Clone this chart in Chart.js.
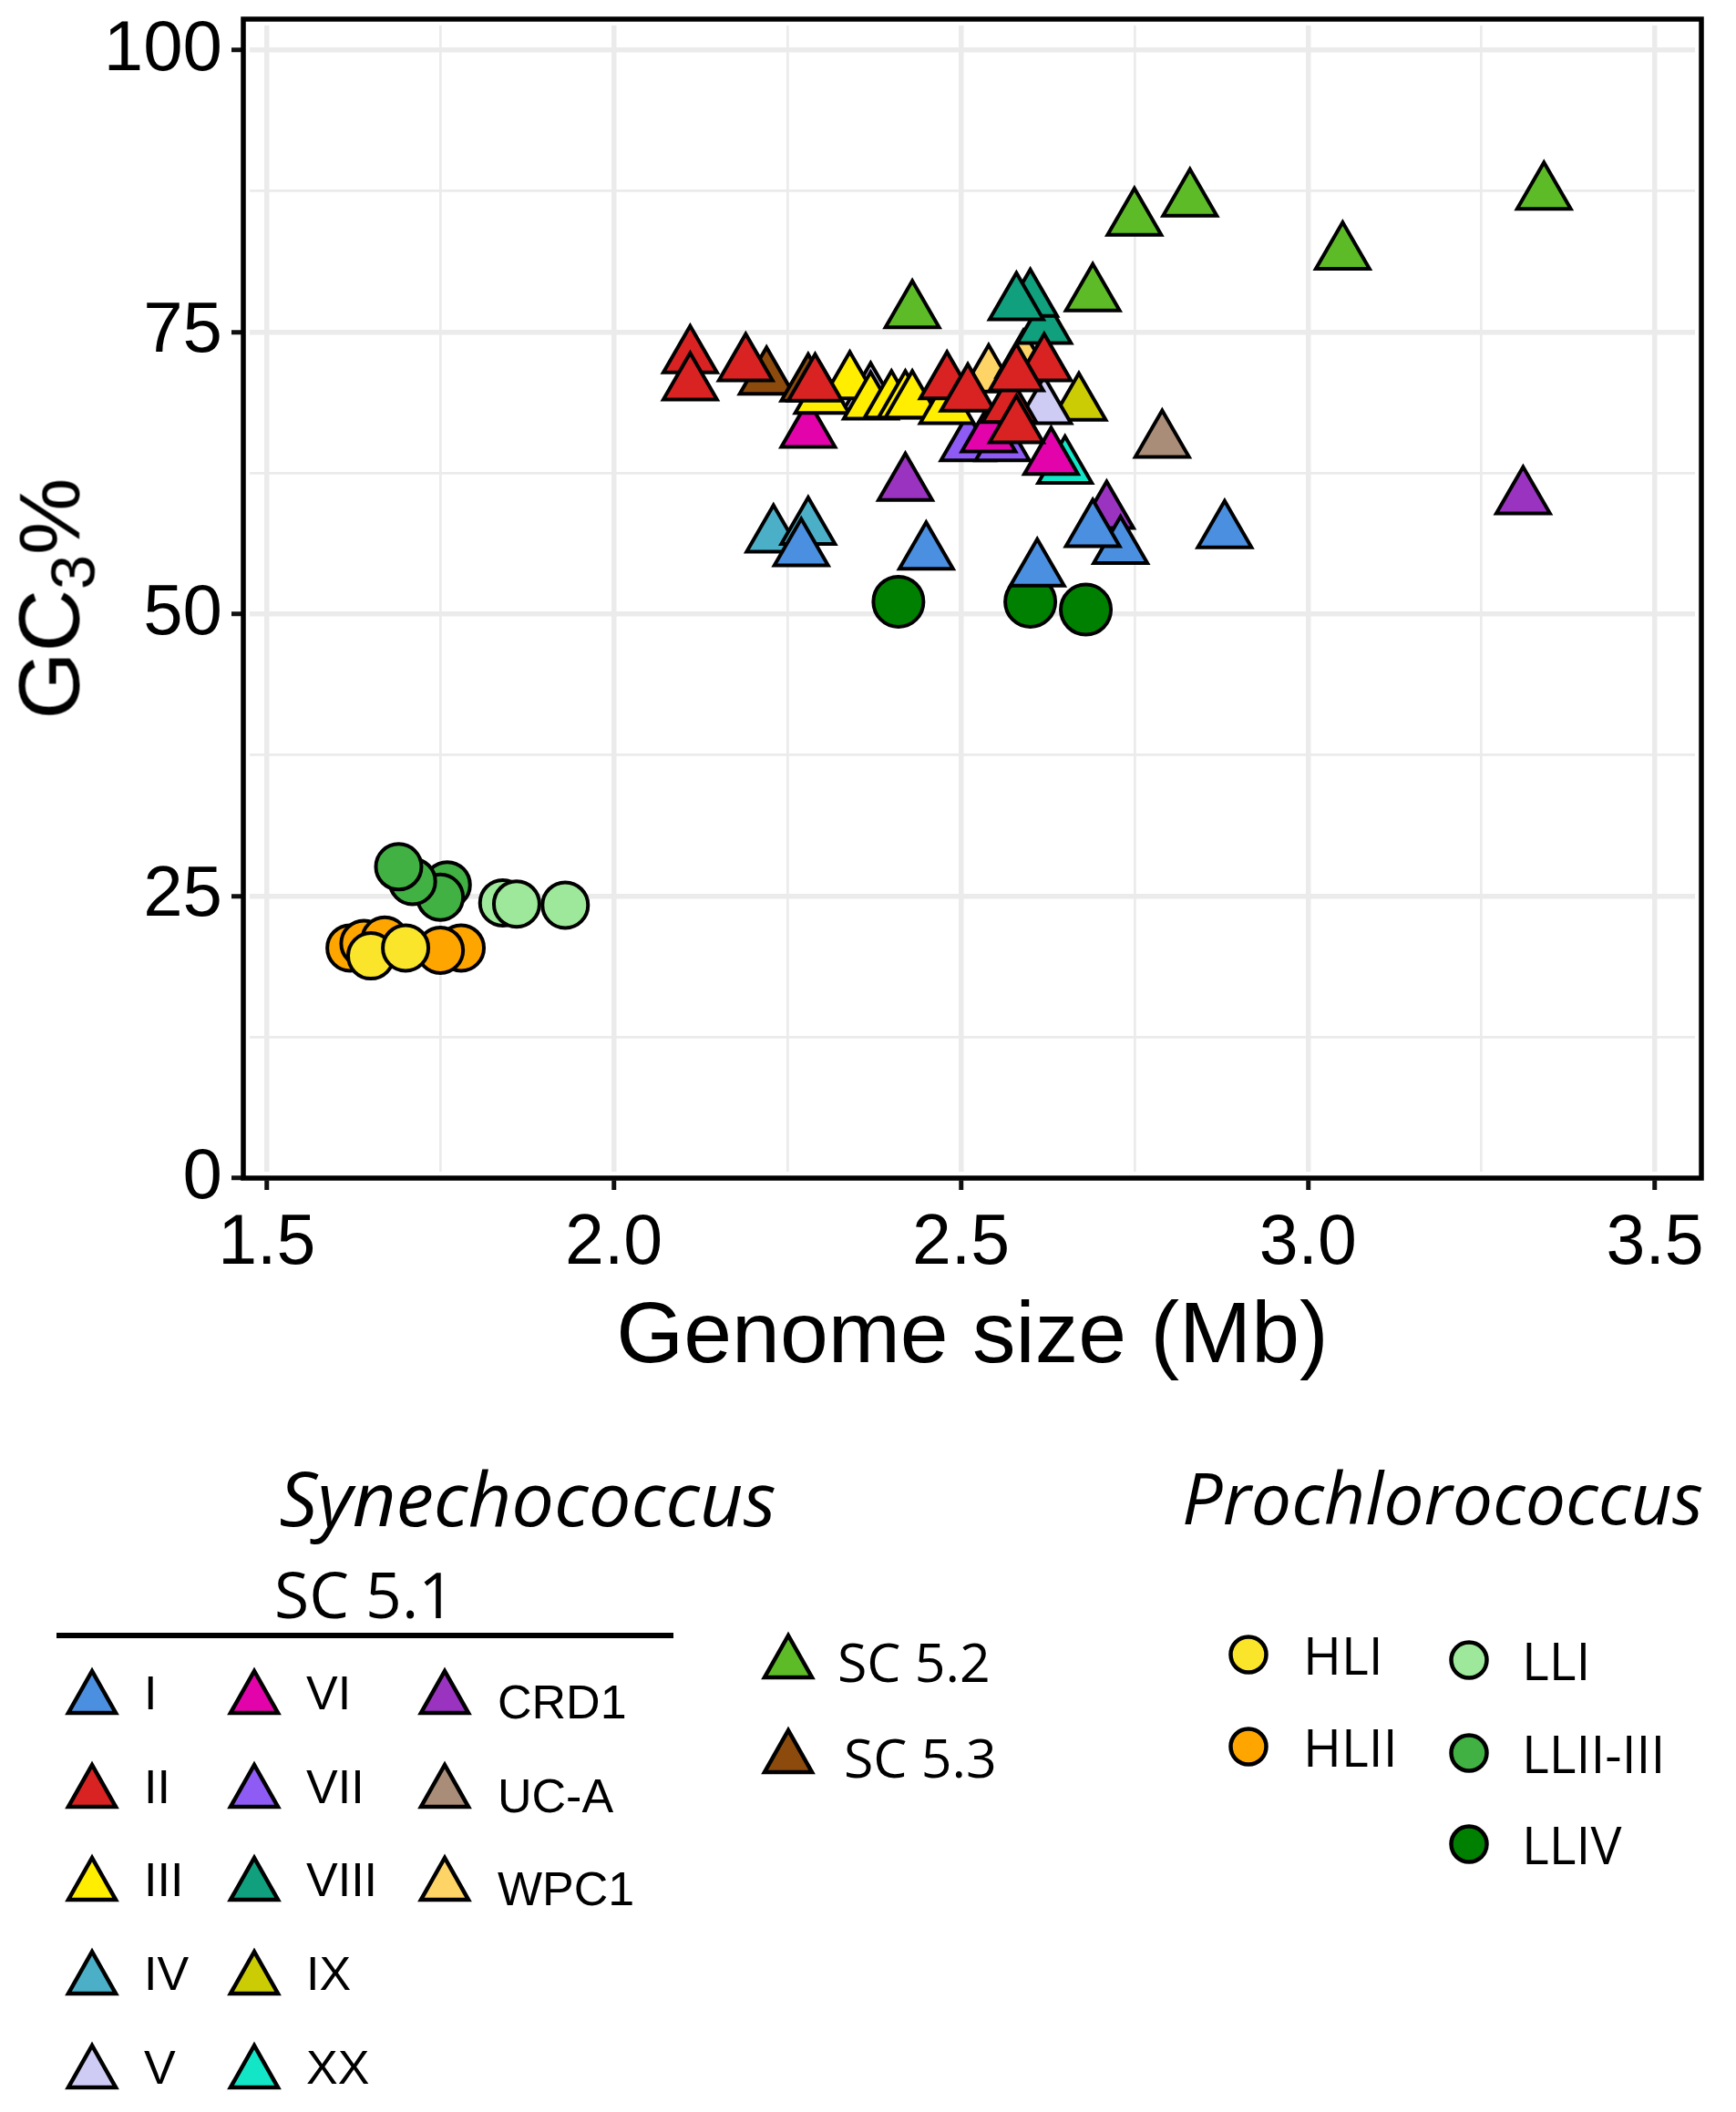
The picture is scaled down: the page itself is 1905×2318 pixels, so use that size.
<!DOCTYPE html>
<html>
<head>
<meta charset="utf-8">
<script src="https://cdn.jsdelivr.net/npm/chart.js@4.4.1/dist/chart.umd.min.js"></script>
<style>
html,body{margin:0;padding:0;background:#fff;}
body{width:1905px;height:2318px;position:relative;overflow:hidden;}
#wrap{position:absolute;left:0;top:0;width:1905px;height:1528px;}
.lab{position:absolute;white-space:nowrap;color:#000;line-height:1;transform:translateY(-50%);}
.arial{font-family:"Liberation Sans",Arial,sans-serif;}
.open{font-family:"Open Sans","DejaVu Sans",sans-serif;}
#ytitle{position:absolute;left:54px;top:657px;font-family:"Liberation Sans",Arial,sans-serif;font-size:95px;line-height:1;white-space:nowrap;transform:translate(-50%,-50%) rotate(-90deg);}
#ytitle .sub{font-size:0.72em;position:relative;top:17px;}
</style>
</head>
<body>
<div id="wrap"><canvas id="c"></canvas></div>
<div id="ytitle">GC<span class="sub">3</span>%</div>
<div id="legend"></div>
<script>
// ---------- data ----------
const xTickValues = [1.5, 1.75, 2.0, 2.25, 2.5, 2.75, 3.0, 3.25, 3.5];
const xTickLabels = ["1.5", "", "2.0", "", "2.5", "", "3.0", "", "3.5"];
const yTickValues = [0, 12.5, 25, 37.5, 50, 62.5, 75, 87.5, 100];
const yTickLabels = ["0", "", "25", "", "50", "", "75", "", "100"];
const xTitle = "Genome size (Mb)";

const synGroups = ["I","II","III","IV","V","VI","VII","VIII","IX","XX","CRD1","UC-A","WPC1","SC 5.2","SC 5.3"];
const synColors = ["#4A8FE0","#D92222","#FFEE00","#4BAFC8","#CECCF5","#E204AA","#8E5CF5","#10A07E","#CCCC05","#12E6C6","#9A33C0","#AA8D78","#FFD466","#5EBB28","#8C4B0C"];
const synSize = [
  [2.27, 2.45, 2.61, 2.73, 2.69, 2.88],
  [2.11, 2.11, 2.19, 2.29, 2.48, 2.51, 2.57, 2.62, 2.58, 2.58],
  [2.30, 2.34, 2.37, 2.40, 2.42, 2.43, 2.48],
  [2.23, 2.28],
  [2.37, 2.62],
  [2.28, 2.54, 2.63],
  [2.51, 2.56],
  [2.62, 2.60, 2.58],
  [2.67],
  [2.65],
  [2.42, 2.71, 3.31],
  [2.79],
  [2.54, 2.59],
  [2.43, 2.69, 2.75, 2.83, 3.05, 3.34],
  [2.22, 2.28]
];
const synGC3 = [
  [55.7, 55.4, 53.9, 55.9, 57.4, 57.3],
  [72.8, 70.4, 72.1, 70.3, 70.5, 69.4, 68.4, 72.1, 71.2, 66.6],
  [69.2, 70.5, 68.7, 68.8, 68.8, 68.8, 68.3],
  [56.9, 57.6],
  [69.5, 68.3],
  [66.2, 65.8, 63.8],
  [65.0, 65.0],
  [75.4, 77.8, 77.5],
  [68.6],
  [63.0],
  [61.5, 59.0, 60.3],
  [65.3],
  [71.1, 72.4],
  [76.8, 78.3, 85.0, 86.7, 82.0, 87.3],
  [70.9, 70.3]
];

const proGroups = ["HLI","HLII","LLI","LLII-III","LLIV"];
const proColors = ["#FAE52B","#FFA500","#9DE89A","#41B144","#008000"];
const proSize = [
  [1.65, 1.70],
  [1.62, 1.64, 1.67, 1.78, 1.75],
  [1.84, 1.86, 1.93],
  [1.76, 1.75, 1.71, 1.69],
  [2.41, 2.60, 2.68]
];
const proGC3 = [
  [19.7, 20.4],
  [20.4, 20.8, 21.1, 20.4, 20.2],
  [24.4, 24.3, 24.2],
  [26.0, 24.9, 26.3, 27.6],
  [51.1, 51.1, 50.4]
];

// ---------- chart ----------
const datasets = [];
synGroups.forEach((g, i) => {
  datasets.push({
    label: g,
    data: synSize[i].map((x, j) => ({x: x, y: synGC3[i][j]})),
    pointStyle: 'triangle',
    pointRadius: 34,
    pointHoverRadius: 34,
    backgroundColor: synColors[i],
    borderColor: '#000',
    borderWidth: 4,
    pointBorderWidth: 4,
    pointHoverBorderWidth: 4
  });
});
proGroups.forEach((g, i) => {
  const r = g === "LLIV" ? 27.5 : 25;
  datasets.push({
    label: g,
    data: proSize[i].map((x, j) => ({x: x, y: proGC3[i][j]})),
    pointStyle: 'circle',
    pointRadius: r,
    pointHoverRadius: r,
    backgroundColor: proColors[i],
    borderColor: '#000',
    borderWidth: 4,
    pointBorderWidth: 4,
    pointHoverBorderWidth: 4
  });
});

const framePlugin = {
  id: 'frame',
  beforeDatasetsDraw(chart) {
    const {ctx, chartArea: a} = chart;
    ctx.save();
    ctx.strokeStyle = '#fff';
    ctx.lineWidth = 5;
    ctx.strokeRect(a.left + 4.5, a.top + 4.5, a.width - 9, a.height - 9);
    ctx.strokeStyle = '#000';
    ctx.lineWidth = 5.5;
    ctx.strokeRect(a.left, a.top, a.width, a.height);
    ctx.restore();
  }
};

const gridMajor = 5.5, gridMinor = 2.7;
new Chart(document.getElementById('c'), {
  type: 'scatter',
  data: {datasets: datasets},
  plugins: [framePlugin],
  options: {
    responsive: true,
    maintainAspectRatio: false,
    animation: false,
    devicePixelRatio: 1,
    layout: {autoPadding: false, padding: {left: 0, right: 38, top: 21, bottom: 0}},
    plugins: {legend: {display: false}, tooltip: {enabled: false}},
    scales: {
      x: {
        type: 'linear',
        min: 1.4662, max: 3.5668,
        afterBuildTicks: s => { s.ticks = xTickValues.map(v => ({value: v})); },
        afterFit: s => { s.height = 235; s.paddingLeft = 0; s.paddingRight = 0; },
        border: {display: false},
        grid: {
          color: '#EBEBEB',
          lineWidth: c => (c.index % 2 === 0 ? gridMajor : gridMinor),
          tickColor: c => (c.index % 2 === 0 ? '#111' : 'rgba(0,0,0,0)'),
          tickWidth: 5,
          tickLength: 13
        },
        ticks: {
          autoSkip: false, maxRotation: 0, minRotation: 0,
          padding: 14,
          color: '#000',
          font: {family: '"Liberation Sans", Arial, sans-serif', size: 77},
          callback: (v, i) => xTickLabels[i]
        },
        title: {
          display: true, text: xTitle, color: '#000',
          font: {family: '"Liberation Sans", Arial, sans-serif', size: 95, lineHeight: 1.0},
          padding: {top: 0, bottom: 12}
        }
      },
      y: {
        type: 'linear',
        min: 0, max: 102.75,
        afterBuildTicks: s => { s.ticks = yTickValues.map(v => ({value: v})); },
        afterFit: s => { s.width = 267; s.paddingTop = 0; s.paddingBottom = 0; },
        border: {display: false},
        grid: {
          color: '#EBEBEB',
          lineWidth: c => (c.index % 2 === 0 ? gridMajor : gridMinor),
          tickColor: c => (c.index % 2 === 0 ? '#111' : 'rgba(0,0,0,0)'),
          tickWidth: 5,
          tickLength: 13
        },
        ticks: {
          autoSkip: false,
          padding: 10,
          color: '#000',
          font: {family: '"Liberation Sans", Arial, sans-serif', size: 78},
          callback: (v, i) => yTickLabels[i]
        }
      }
    }
  }
});

// ---------- legend (HTML) ----------
const L = document.getElementById('legend');
function addText(txt, x, y, cls, size, extra) {
  const d = document.createElement('div');
  d.className = 'lab ' + cls;
  d.style.left = x + 'px';
  d.style.top = y + 'px';
  d.style.fontSize = size + 'px';
  if (extra) Object.assign(d.style, extra);
  d.textContent = txt;
  L.appendChild(d);
  return d;
}
function addTri(cx, apex, color) {
  const ns = 'http://www.w3.org/2000/svg';
  const s = document.createElementNS(ns, 'svg');
  s.setAttribute('width', 70); s.setAttribute('height', 64);
  s.style.position = 'absolute';
  s.style.left = (cx - 35) + 'px';
  s.style.top = (apex - 4.5) + 'px';
  const p = document.createElementNS(ns, 'polygon');
  p.setAttribute('points', '35,7 9,53 61,53');
  p.setAttribute('fill', color);
  p.setAttribute('stroke', '#000');
  p.setAttribute('stroke-width', 4.5);
  s.appendChild(p);
  L.appendChild(s);
}
function addCirc(cx, cy, color) {
  const ns = 'http://www.w3.org/2000/svg';
  const s = document.createElementNS(ns, 'svg');
  s.setAttribute('width', 50); s.setAttribute('height', 50);
  s.style.position = 'absolute';
  s.style.left = (cx - 25) + 'px';
  s.style.top = (cy - 25) + 'px';
  const c = document.createElementNS(ns, 'circle');
  c.setAttribute('cx', 25); c.setAttribute('cy', 25); c.setAttribute('r', 19.5);
  c.setAttribute('fill', color);
  c.setAttribute('stroke', '#000');
  c.setAttribute('stroke-width', 4.5);
  s.appendChild(c);
  L.appendChild(s);
}
function fitCenter(el, cx, targetW) {
  const w = el.getBoundingClientRect().width;
  const fs = parseFloat(el.style.fontSize) * targetW / w;
  el.style.fontSize = fs + 'px';
  const w2 = el.getBoundingClientRect().width;
  el.style.left = (cx - w2 / 2) + 'px';
}

// headers
const h1 = addText('Synechococcus', 0, 1643, 'open', 74, {fontStyle: 'italic'});
fitCenter(h1, 579, 545);
const h2 = addText('Prochlorococcus', 0, 1643, 'open', 74, {fontStyle: 'italic'});
fitCenter(h2, 1583, 572);
const h3 = addText('SC 5.1', 0, 1750, 'open', 66);
fitCenter(h3, 400, 198);
const line = document.createElement('div');
Object.assign(line.style, {position: 'absolute', left: '62px', top: '1792px', width: '677px', height: '6px', background: '#000'});
L.appendChild(line);

// SC 5.1 grid
const colIdx = [[0,1,2,3,4],[5,6,7,8,9],[10,11,12]];
const colCx = [101, 279, 488];
const colLab = [158, 336, 546];
const rowApex = [1831, 1934, 2036, 2139, 2242];
colIdx.forEach((col, c) => {
  col.forEach((gi, r) => {
    addTri(colCx[c], rowApex[r], synColors[gi]);
    addText(synGroups[gi], colLab[c], rowApex[r] + 27 + (c === 2 ? 10 : 0), 'arial', 52);
  });
});
// SC 5.2 / 5.3
addTri(865, 1792, synColors[13]);
addText(synGroups[13], 919, 1823, 'open', 59);
addTri(865, 1896, synColors[14]);
addText(synGroups[14], 926, 1928, 'open', 59);

// Prochlorococcus
const proCx = [1370, 1370, 1612, 1612, 1612];
const proCy = [1816, 1917, 1822, 1924, 2024];
const proLab = [1430, 1430, 1670, 1670, 1670];
proGroups.forEach((g, i) => {
  addCirc(proCx[i], proCy[i], proColors[i]);
  addText(g, proLab[i], proCy[i], 'open', 57);
});
</script>
</body>
</html>
